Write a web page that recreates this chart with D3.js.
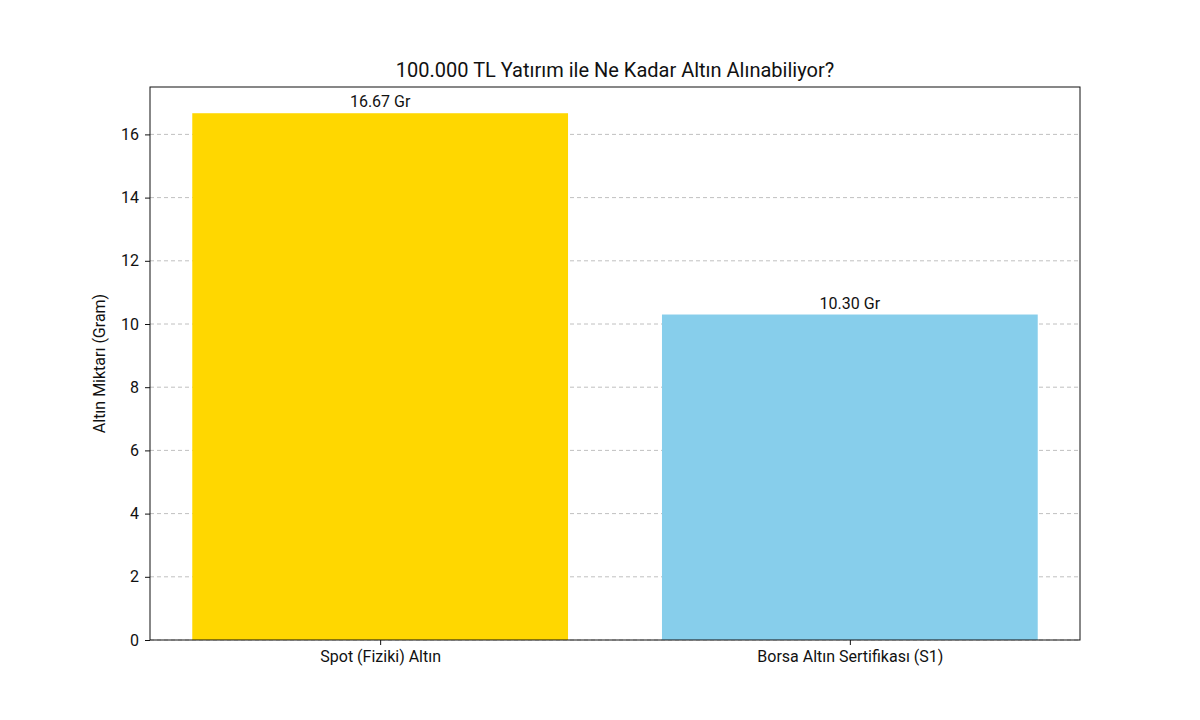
<!DOCTYPE html>
<html><head><meta charset="utf-8">
<script src="https://cdn.jsdelivr.net/npm/d3@7"></script>
<style>body{margin:0;background:#fff;font-family:Roboto,"Noto Sans",sans-serif}</style>
</head><body>
<script>
const categories = ["Spot (Fiziki) Altın", "Borsa Altın Sertifikası (S1)"];
const values = [16.67, 10.30];
const labels = ["16.67 Gr", "10.30 Gr"];
const colors = ["#FFD700", "#87CEEB"];
const yTicks = [0, 2, 4, 6, 8, 10, 12, 14, 16];

const W = 1200, H = 720;
const L = 150, R = 1080, T = 87, B = 640;
const svg = d3.select('body').append('svg').attr('width', W).attr('height', H);

const x = d3.scaleLinear().domain([-0.49, 1.49]).range([L, R]);
const y = d3.scaleLinear().domain([0, 17.5]).range([B, T]);

// grid
svg.append('g').selectAll('line').data(yTicks).enter().append('line')
  .attr('x1', L).attr('x2', R).attr('y1', d => y(d)).attr('y2', d => y(d))
  .attr('stroke', '#b0b0b0').attr('stroke-dasharray', '4,3').attr('stroke-width', 0.8);

svg.append('g').selectAll('rect').data(values).enter().append('rect')
  .attr('x', (d, i) => x(i - 0.4)).attr('width', x(0.8) - x(0))
  .attr('y', d => y(d)).attr('height', d => B - y(d))
  .attr('fill', (d, i) => colors[i]);

svg.append('g').selectAll('text').data(values).enter().append('text')
  .attr('x', (d, i) => x(i)).attr('y', d => y(d) - 6)
  .attr('text-anchor', 'middle').attr('font-size', 16).attr('fill', '#111')
  .text((d, i) => labels[i]);

const ya = svg.append('g').attr('transform', `translate(${L},0)`)
  .call(d3.axisLeft(y).tickValues(yTicks).tickSize(5).tickPadding(6).tickFormat(d3.format('d')));
const xa = svg.append('g').attr('transform', `translate(0,${B})`)
  .call(d3.axisBottom(x).tickValues([0, 1]).tickSize(5).tickPadding(6).tickFormat(i => categories[i]));
[ya, xa].forEach(a => {
  a.select('.domain').remove();
  a.selectAll('text').attr('font-size', 16).attr('fill', '#111').attr('font-family', 'Roboto,"Noto Sans",sans-serif');
  a.selectAll('line').attr('stroke', '#111');
});

svg.append('rect').attr('x', L).attr('y', T).attr('width', R - L).attr('height', B - T)
  .attr('fill', 'none').attr('stroke', '#111').attr('stroke-width', 1);

svg.append('text').attr('x', (L + R) / 2).attr('y', T - 10).attr('text-anchor', 'middle')
  .attr('font-size', 20).attr('fill', '#111').text('100.000 TL Yatırım ile Ne Kadar Altın Alınabiliyor?');
svg.append('text').attr('transform', `translate(105,${(T + B) / 2}) rotate(-90)`)
  .attr('text-anchor', 'middle').attr('font-size', 16).attr('fill', '#111').text('Altın Miktarı (Gram)');
</script>
</body></html>
